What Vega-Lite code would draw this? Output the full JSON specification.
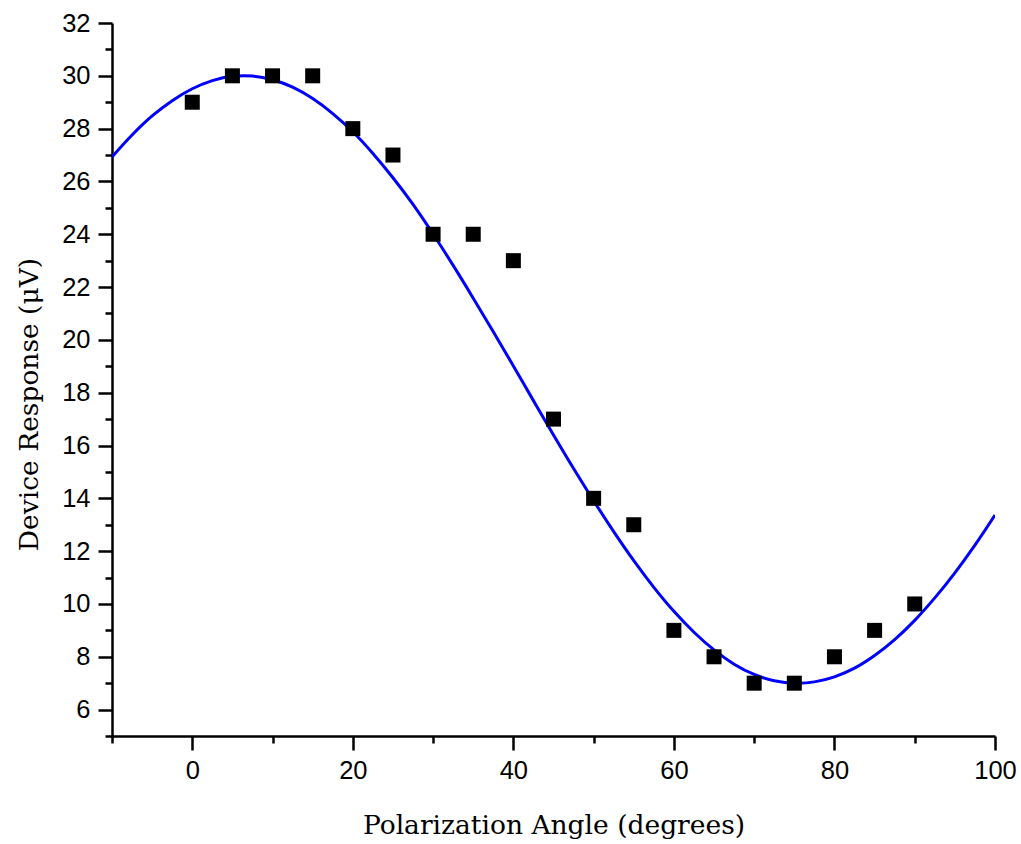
{
  "$schema": "https://vega.github.io/schema/vega-lite/v6.json",
  "autosize": "none",
  "width": 883,
  "height": 713,
  "padding": {"left": 112, "top": 23, "right": 26, "bottom": 108},
  "background": "white",
  "config": {"view": {"stroke": null}},
  "datasets": {
    "points": [
      {"angle": 0, "response": 29}, {"angle": 5, "response": 30}, {"angle": 10, "response": 30},
      {"angle": 15, "response": 30}, {"angle": 20, "response": 28}, {"angle": 25, "response": 27},
      {"angle": 30, "response": 24}, {"angle": 35, "response": 24}, {"angle": 40, "response": 23},
      {"angle": 45, "response": 17}, {"angle": 50, "response": 14}, {"angle": 55, "response": 13},
      {"angle": 60, "response": 9}, {"angle": 65, "response": 8}, {"angle": 70, "response": 7},
      {"angle": 75, "response": 7}, {"angle": 80, "response": 8}, {"angle": 85, "response": 9},
      {"angle": 90, "response": 10}
    ],
    "fit": [
      {"angle": -10, "response": 26.93}, {"angle": -7.5, "response": 27.76}, {"angle": -5, "response": 28.48},
      {"angle": -2.5, "response": 29.06}, {"angle": 0, "response": 29.51}, {"angle": 2.5, "response": 29.82},
      {"angle": 5, "response": 29.98}, {"angle": 6.44, "response": 30.0}, {"angle": 7.5, "response": 29.99},
      {"angle": 10, "response": 29.85}, {"angle": 12.5, "response": 29.57}, {"angle": 15, "response": 29.14},
      {"angle": 17.5, "response": 28.57}, {"angle": 20, "response": 27.88}, {"angle": 22.5, "response": 27.06},
      {"angle": 25, "response": 26.14}, {"angle": 27.5, "response": 25.13}, {"angle": 30, "response": 24.01},
      {"angle": 32.5, "response": 22.82}, {"angle": 35, "response": 21.58}, {"angle": 37.5, "response": 20.31},
      {"angle": 40, "response": 19.01}, {"angle": 42.5, "response": 17.7}, {"angle": 45, "response": 16.4},
      {"angle": 47.5, "response": 15.13}, {"angle": 50, "response": 13.91}, {"angle": 52.5, "response": 12.74},
      {"angle": 55, "response": 11.64}, {"angle": 57.5, "response": 10.63}, {"angle": 60, "response": 9.72},
      {"angle": 62.5, "response": 8.93}, {"angle": 65, "response": 8.26}, {"angle": 67.5, "response": 7.72},
      {"angle": 70, "response": 7.33}, {"angle": 72.5, "response": 7.09}, {"angle": 75, "response": 7.0},
      {"angle": 75.5, "response": 7.0}, {"angle": 77.5, "response": 7.05}, {"angle": 80, "response": 7.24},
      {"angle": 82.5, "response": 7.57}, {"angle": 85, "response": 8.05}, {"angle": 87.5, "response": 8.65},
      {"angle": 90, "response": 9.38}, {"angle": 92.5, "response": 10.23}, {"angle": 95, "response": 11.18},
      {"angle": 97.5, "response": 12.23}, {"angle": 100, "response": 13.37}
    ]
  },
  "encoding": {
    "x": {
      "field": "angle", "type": "quantitative",
      "scale": {"domain": [-10, 100], "nice": false, "zero": false},
      "axis": {
        "title": "Polarization Angle (degrees)",
        "values": [-10, 0, 10, 20, 30, 40, 50, 60, 70, 80, 90, 100],
        "labelExpr": "datum.value % 20 === 0 ? datum.label : ''",
        "grid": false,
        "domainColor": "black", "domainWidth": 2.5,
        "tickColor": "black", "tickWidth": 2.5,
        "tickSize": {"condition": {"test": "datum.value % 20 === 0", "value": 14}, "value": 7},
        "labelFont": "Liberation Sans", "labelFontSize": 25.5, "labelColor": "black",
        "labelPadding": 8, "labelFlush": false,
        "titleFont": "DejaVu Serif", "titleFontSize": 26.5, "titleFontWeight": "normal", "titleColor": "black",
        "titlePadding": 29
      }
    },
    "y": {
      "field": "response", "type": "quantitative",
      "scale": {"domain": [5, 32], "nice": false, "zero": false},
      "axis": {
        "title": "Device Response (μV)",
        "values": [5, 6, 7, 8, 9, 10, 11, 12, 13, 14, 15, 16, 17, 18, 19, 20, 21, 22, 23, 24, 25, 26, 27, 28, 29, 30, 31, 32],
        "labelExpr": "datum.value % 2 === 0 ? datum.label : ''",
        "grid": false,
        "domainColor": "black", "domainWidth": 2.5,
        "tickColor": "black", "tickWidth": 2.5,
        "tickSize": {"condition": {"test": "datum.value % 2 === 0", "value": 14}, "value": 7},
        "labelFont": "Liberation Sans", "labelFontSize": 25.5, "labelColor": "black",
        "labelPadding": 8, "labelFlush": false,
        "titleFont": "DejaVu Serif", "titleFontSize": 26.5, "titleFontWeight": "normal", "titleColor": "black",
        "titlePadding": 18,
        "titleY": 381
      }
    }
  },
  "layer": [
    {
      "data": {"name": "fit"},
      "mark": {"type": "line", "color": "#0000ff", "strokeWidth": 3, "interpolate": "monotone", "clip": true}
    },
    {
      "data": {"name": "points"},
      "mark": {"type": "point", "shape": "square", "filled": true, "color": "black", "size": 225, "opacity": 1}
    }
  ]
}
